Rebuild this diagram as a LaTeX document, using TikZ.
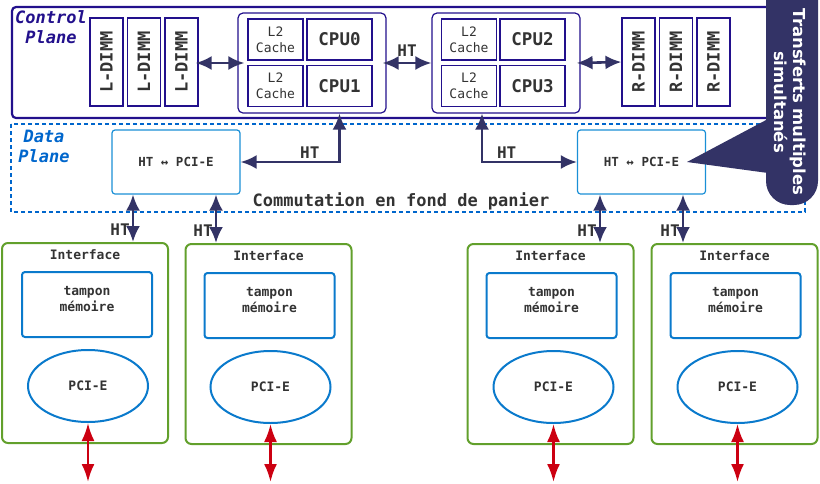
\documentclass[tikz,border=0pt]{standalone}
\usepackage{fontspec}
\setmainfont{DejaVu Sans}
\setsansfont{DejaVu Sans}
\setmonofont{DejaVu Sans Mono}
\usetikzlibrary{calc,arrows.meta,shapes.geometric}
\definecolor{ctrlblue}{HTML}{22108C}
\definecolor{navy}{HTML}{333366}
\definecolor{datablue}{HTML}{0066CC}
\definecolor{convblue}{HTML}{1A8FD6}
\definecolor{bufblue}{HTML}{0A7ACC}
\definecolor{ifgreen}{HTML}{62A02C}
\definecolor{pcired}{HTML}{CC0011}
\definecolor{txtgray}{HTML}{333333}
\tikzset{
  dimm/.style={draw=ctrlblue, line width=1.2pt, rotate=90, minimum width=88pt, minimum height=33pt, inner sep=0pt, text=txtgray, font=\ttfamily\bfseries\fontsize{17}{17}\selectfont},
  grp/.style={draw=ctrlblue, line width=1.2pt, rounded corners=5pt, minimum width=148pt, minimum height=100pt, inner sep=0pt},
  cache/.style={draw=ctrlblue, line width=1.2pt, minimum width=55pt, minimum height=41pt, inner sep=0pt, align=center, text=txtgray, font=\ttfamily\fontsize{13}{16}\selectfont},
  cpu/.style={draw=ctrlblue, line width=1.2pt, minimum width=65pt, minimum height=41pt, inner sep=0pt, text=txtgray, font=\ttfamily\bfseries\fontsize{17.5}{17.5}\selectfont},
  conv/.style={draw=convblue, line width=1.2pt, rounded corners=3pt, minimum width=128pt, minimum height=64pt, inner sep=0pt, text=txtgray, font=\ttfamily\bfseries\fontsize{12.5}{12.5}\selectfont},
  iface/.style={draw=ifgreen, line width=2pt, rounded corners=6pt, minimum width=166pt, minimum height=200pt, inner sep=0pt},
  ititle/.style={text=txtgray, inner sep=0pt, font=\ttfamily\bfseries\fontsize{13}{13}\selectfont},
  tampon/.style={draw=bufblue, line width=2pt, rounded corners=3pt, minimum width=130pt, minimum height=65pt, inner sep=0pt, align=center, text=txtgray, font=\ttfamily\bfseries\fontsize{13}{16}\selectfont},
  pcie/.style={draw=bufblue, line width=2pt, ellipse, minimum width=120pt, minimum height=72pt, inner sep=0pt, text=txtgray, font=\ttfamily\bfseries\fontsize{13}{13}\selectfont},
  link/.style={draw=navy, line width=2.6pt, >={Latex[length=16pt,width=14pt]}, <->},
  redlink/.style={draw=pcired, line width=2.4pt, >={Latex[length=18pt,width=13pt]}, <->},
  htlab/.style={text=txtgray, inner sep=2pt, font=\ttfamily\bfseries\fontsize{16}{16}\selectfont},
  planelab/.style={align=center, inner sep=0pt, font=\ttfamily\bfseries\itshape\fontsize{17}{20}\selectfont}
}
\begin{document}
\begin{tikzpicture}[x=1pt,y=-1pt]
\useasboundingbox (0,0) rectangle (820,483);
\draw[ctrlblue, line width=2.2pt, rounded corners=4pt] (12,7) rectangle (790,118);
\node[planelab, text=ctrlblue] (cplab) at (51,27) {Control\\Plane};
\node[dimm] (ld1) at (106.5,62) {L-DIMM};
\node[dimm] (ld2) at (144,62) {L-DIMM};
\node[dimm] (ld3) at (181.5,62) {L-DIMM};
\node[grp] (g1) at (312,63) {};
\node[cache] (l20) at (275.5,39.5) {L2\\Cache};
\node[cache] (l21) at (275.5,86) {L2\\Cache};
\node[cpu] (cpu0) at (339.5,39.5) {CPU0};
\node[cpu] (cpu1) at (339.5,86) {CPU1};
\node[grp] (g2) at (506,63) {};
\node[cache] (l22) at (469,39.5) {L2\\Cache};
\node[cache] (l23) at (469,86) {L2\\Cache};
\node[cpu] (cpu2) at (532.5,39.5) {CPU2};
\node[cpu] (cpu3) at (532.5,86) {CPU3};
\node[dimm] (rd1) at (638.5,62) {R-DIMM};
\node[dimm] (rd2) at (676,62) {R-DIMM};
\node[dimm] (rd3) at (713.5,62) {R-DIMM};
\draw[link] ($(ld3.south)+(-3,1)$) -- ($(g1.west)+(7,0)$);
\draw[link] ($(g1.east)+(-4,0)$) -- (g2.west) node[htlab, midway, above=3pt] {HT};
\draw[link] ($(g2.east)+(-4,0)$) -- (rd1.north);
\draw[datablue, line width=1.8pt, dash pattern=on 4pt off 3pt] (11,124) rectangle (805,212);
\node[planelab, text=datablue] (dplab) at (44,146) {Data\\Plane};
\node[conv] (cvl) at (176,162) {HT ↔ PCI-E};
\node[conv] (cvr) at (641.5,162) {HT ↔ PCI-E};
\node[htlab, font=\ttfamily\bfseries\fontsize{17}{17}\selectfont] (comm) at (401,201) {Commutation en fond de panier};
\draw[link] (g1.south -| cpu1.south) |- (cvl.east) node[htlab, pos=0.65, above] {HT};
\coordinate (g2b) at ($(g2.south)+(-24,0)$);
\draw[link] (g2b) |- (cvr.west) node[htlab, pos=0.63, above] {HT};
\node[iface] (if1) at (85,343) {};
\node[iface] (if2) at (268.5,344) {};
\node[iface] (if3) at (550.5,344) {};
\node[iface] (if4) at (734.5,344) {};
\node[ititle] (it1) at ($(if1.north)+(0,13)$) {Interface};
\node[ititle] (it2) at ($(if2.north)+(0,13)$) {Interface};
\node[ititle] (it3) at ($(if3.north)+(0,13)$) {Interface};
\node[ititle] (it4) at ($(if4.north)+(0,13)$) {Interface};
\node[tampon] (tp1) at ($(if1)+(2,-38.5)$) {tampon\\mémoire\\[-5pt]};
\node[tampon] (tp2) at ($(if2)+(1,-38.5)$) {tampon\\mémoire\\[-5pt]};
\node[tampon] (tp3) at ($(if3)+(1,-38.5)$) {tampon\\mémoire\\[-5pt]};
\node[tampon] (tp4) at ($(if4)+(1,-38.5)$) {tampon\\mémoire\\[-5pt]};
\node[pcie] (pe1) at ($(if1)+(3,43)$) {PCI-E};
\node[pcie] (pe2) at ($(if2)+(2,43)$) {PCI-E};
\node[pcie] (pe3) at ($(if3)+(3,43)$) {PCI-E};
\node[pcie] (pe4) at ($(if4)+(3,43)$) {PCI-E};
\coordinate (h1) at ($(cvl.south)+(-43,0)$);
\coordinate (h2) at ($(cvl.south)+(40,0)$);
\coordinate (h3) at ($(cvr.south)+(-41.5,0)$);
\coordinate (h4) at ($(cvr.south)+(41.5,0)$);
\draw[link] (h1) -- (h1 |- if1.north) node[htlab, pos=0.74, left=0pt] {HT};
\draw[link] (h2) -- (h2 |- if2.north) node[htlab, pos=0.74, left=0pt] {HT};
\draw[link] (h3) -- (h3 |- if3.north) node[htlab, pos=0.74, left=0pt] {HT};
\draw[link] (h4) -- (h4 |- if4.north) node[htlab, pos=0.74, left=0pt] {HT};
\coordinate (o1) at (pe1.south |- 0,482);
\coordinate (o2) at (pe2.south |- 0,482);
\coordinate (o3) at (pe3.south |- 0,482);
\coordinate (o4) at (pe4.south |- 0,482);
\draw[redlink] (pe1.south) -- (o1);
\draw[redlink] (pe2.south) -- (o2);
\draw[redlink] (pe3.south) -- (o3);
\draw[redlink] (pe4.south) -- (o4);
\fill[navy, rounded corners=24pt] (766,-30) rectangle (818,205);
\fill[navy] (768,119) -- (687,162) -- (768,173) -- cycle;
\node[rotate=-90, align=center, text=white, inner sep=0pt, font=\sffamily\bfseries\fontsize{16.5}{19.5}\selectfont] (bub) at (790,102) {Transferts multiples\\simultanés};
\end{tikzpicture}
\end{document}
